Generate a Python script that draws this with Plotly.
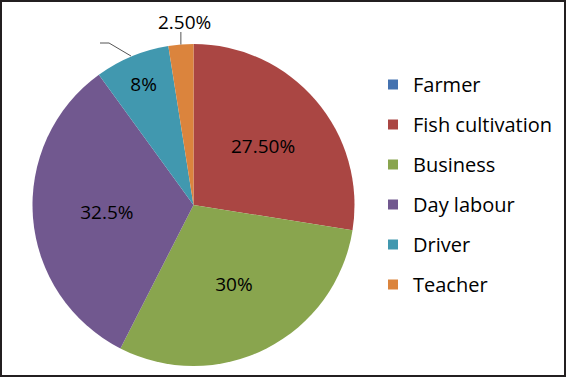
import math
import plotly.graph_objects as go

categories = ["Farmer", "Fish cultivation", "Business", "Day labour", "Driver", "Teacher"]
values = [0, 27.5, 30, 32.5, 7.5, 2.5]
value_labels = ["", "27.50%", "30%", "32.5%", "8%", "2.50%"]
colors = ["#4472B0", "#AA4643", "#89A54E", "#71588F", "#4198AF", "#DB843D"]

W, H = 566, 377
cx, cy, r = 193.5, 205, 161

# Teacher label placed outside with a leader line (Excel style)
inside_text = value_labels[:-1] + [""]
total = sum(values)
start = sum(values[:-1]) / total * 360
mid = start + values[-1] / total * 360 / 2
ex = cx + r * math.sin(math.radians(mid))
ey = cy - r * math.cos(math.radians(mid))

fig = go.Figure()
fig.add_trace(go.Pie(
    labels=categories, values=values, text=inside_text,
    textinfo="text", sort=False, direction="clockwise", rotation=0,
    marker=dict(colors=colors, line=dict(width=0)),
    textposition="inside",
    insidetextorientation="horizontal",
    textfont=dict(family="Open Sans", size=19, color="black"),
    showlegend=False, hoverinfo="label+percent",
    domain=dict(x=[(cx - r) / W, (cx + r) / W], y=[(H - cy - r) / H, (H - cy + r) / H]),
))

for name, col in zip(categories, colors):
    fig.add_trace(go.Scatter(
        x=[None], y=[None], mode="markers", name=name, legendgroup=name,
        marker=dict(symbol="square", size=10, color=col),
    ))

fig.update_layout(
    width=W, height=H,
    margin=dict(l=0, r=0, t=0, b=0),
    paper_bgcolor="white", plot_bgcolor="white",
    xaxis=dict(visible=False), yaxis=dict(visible=False),
    showlegend=True,
    legend=dict(x=373 / W, y=1 - 65 / H, xanchor="left", yanchor="top",
                font=dict(family="Open Sans", size=20, color="black"),
                tracegroupgap=11, itemwidth=30, bgcolor="rgba(0,0,0,0)"),
    annotations=[
        dict(xref="paper", yref="paper", x=(ex + 4) / W, y=1 - 22 / H,
             text=value_labels[-1], showarrow=False,
             font=dict(family="Open Sans", size=19, color="black"),
             xanchor="center", yanchor="middle"),
    ],
    shapes=[
        dict(type="rect", xref="paper", yref="paper", x0=1 / W, x1=1 - 1 / W,
             y0=1 / H, y1=1 - 1 / H, line=dict(color="#231f20", width=2)),
        dict(type="path", xref="paper", yref="paper",
             path=f"M {100/W} {1-43/H} L {109/W} {1-43/H} L {131/W} {1-56/H}",
             line=dict(color="#555555", width=1)),
        dict(type="line", xref="paper", yref="paper",
             x0=ex / W, x1=ex / W, y0=1 - ey / H, y1=1 - 32 / H,
             line=dict(color="#555555", width=1)),
    ],
)

fig.write_html("out.html", config={"displayModeBar": False},
               post_script="document.body.style.margin='0';")
